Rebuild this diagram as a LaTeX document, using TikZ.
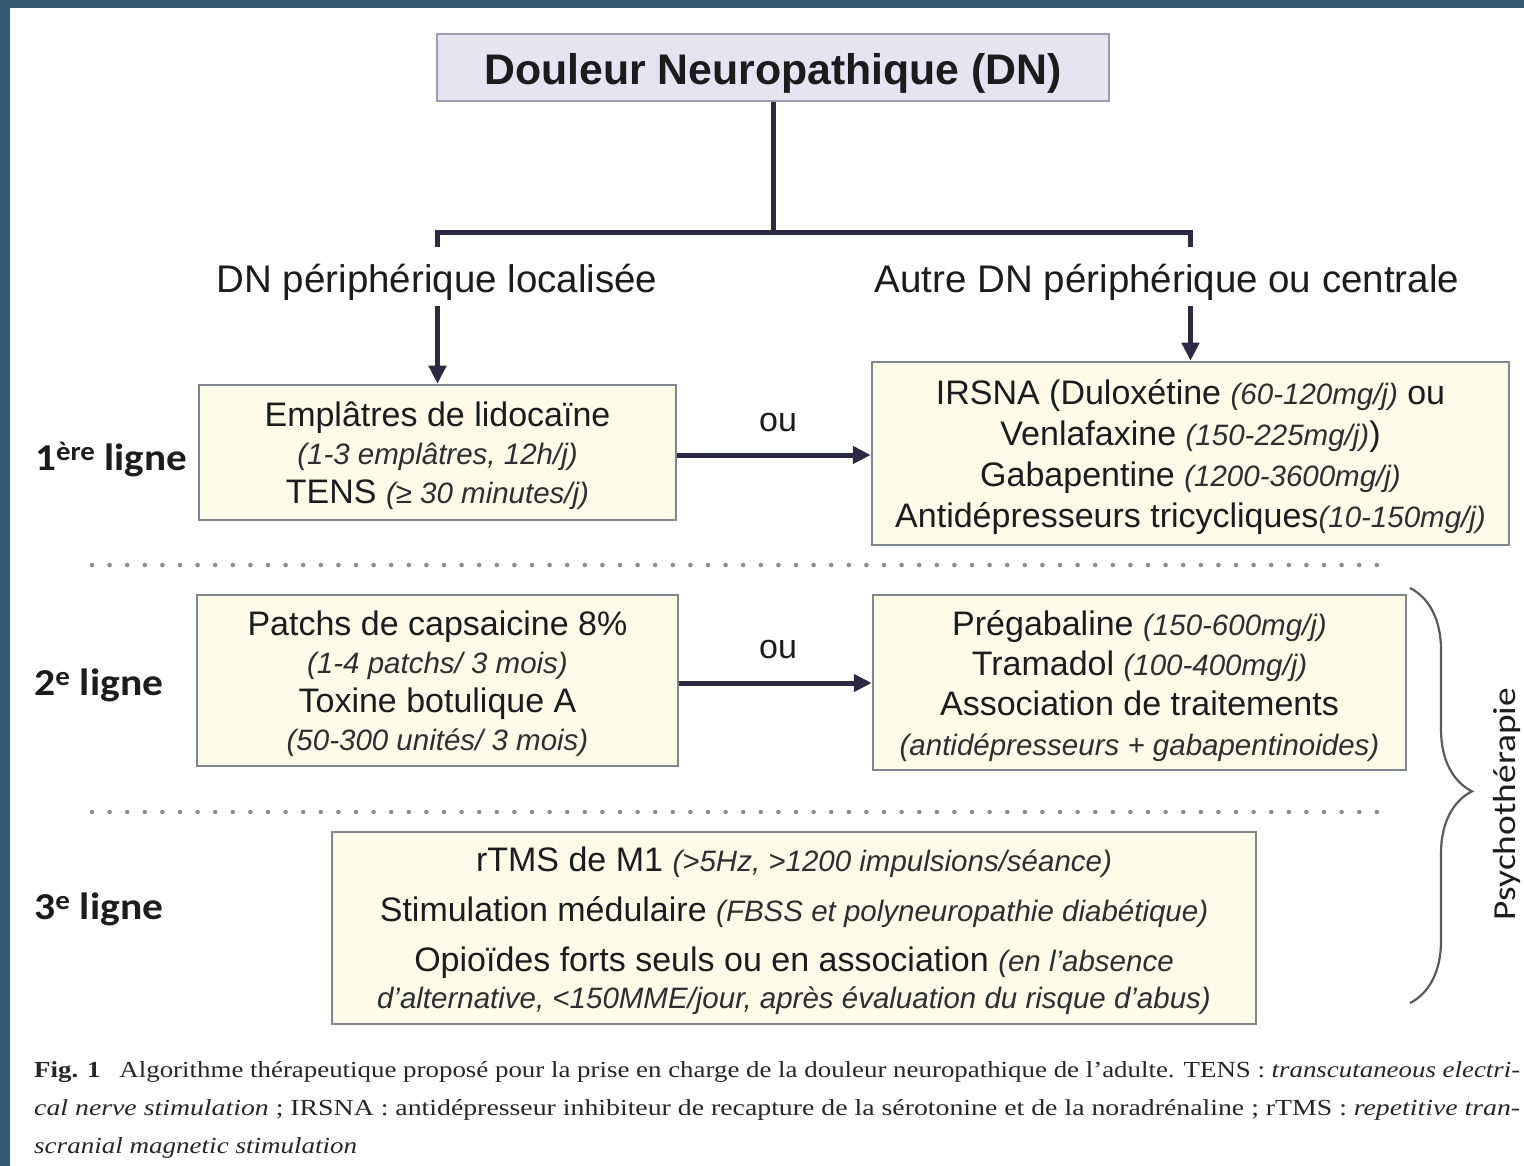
\documentclass[tikz,border=0pt]{standalone}
\usepackage{fontspec}
\usepackage{graphicx}
\setmainfont{Liberation Sans}
\newfontfamily\calibfont{Carlito}
\newfontfamily\capfont{Liberation Serif}
\usetikzlibrary{arrows.meta,decorations.pathreplacing}
\definecolor{frameblue}{HTML}{355A72}
\definecolor{topfill}{HTML}{E6E4F0}
\definecolor{topdraw}{HTML}{9C9CB4}
\definecolor{boxfill}{HTML}{FBFBE7}
\definecolor{boxdraw}{HTML}{7F878E}
\definecolor{connc}{HTML}{2C2942}
\definecolor{txt}{HTML}{1C1C1C}
\definecolor{dosec}{HTML}{2E2E2E}
\definecolor{dotc}{HTML}{8C8C8C}
\definecolor{bracec}{HTML}{5A5A5A}
\definecolor{capc}{HTML}{262626}
\newcommand{\dose}[1]{{\fontsize{29.5}{38}\selectfont\itshape\color{dosec}#1}}
\tikzset{
  topbox/.style={draw=topdraw, fill=topfill, line width=2pt, inner sep=0pt,
    text height=34pt, text depth=0pt,
    font=\fontsize{42.8}{50}\selectfont\bfseries, text=txt},
  medbox/.style={draw=boxdraw, fill=boxfill, line width=2.5pt, inner sep=0pt,
    text depth=0pt, align=center, text=txt},
  conn/.style={draw=connc, line width=5pt},
  arr/.style={conn, -{Triangle[length=18pt,width=17pt]}},
  lbl/.style={font=\fontsize{38.5}{44}\selectfont, text=txt, inner sep=0pt, anchor=base},
  lvl/.style={font=\calibfont\bfseries\fontsize{38}{44}\selectfont, text=txt, inner sep=0pt, anchor=base west},
  oulbl/.style={font=\fontsize{34}{40}\selectfont, text=txt, inner sep=0pt},
  dotline/.style={draw=dotc, line width=4.5pt, line cap=round, dash pattern=on 0pt off 17.6pt},
  bracestyle/.style={draw=bracec, line width=2.2pt, decorate,
    decoration={brace, amplitude=62pt, aspect=0.49}},
  capline/.style={anchor=base west, font=\capfont\fontsize{23}{27}\selectfont, text=capc, inner sep=0pt}
}
\begin{document}
\begin{tikzpicture}[x=1pt,y=-1pt]
\fill[frameblue] (0,0) rectangle (1524,1166);
\fill[white] (10,8) rectangle (1524,1166);
\useasboundingbox (0,0) rectangle (1524,1166);

% top node
\node[topbox, minimum width=672pt, minimum height=67pt] (dn) at (773,67.5) {Douleur Neuropathique (DN)};

% boxes
\node[medbox, minimum width=477pt, minimum height=135pt, font=\fontsize{34}{38.5}\selectfont] (b1l) at (437.5,452.5)
  {Emplâtres de lidocaïne\\ \dose{(1-3 emplâtres, 12h/j)}\\ TENS \dose{(≥ 30 minutes/j)}};
\node[medbox, minimum width=637pt, minimum height=183pt, font=\fontsize{34}{41}\selectfont] (b1r) at (1190.5,453.5)
  {IRSNA (Duloxétine \dose{(60-120mg/j)} ou\\ Venlafaxine \dose{(150-225mg/j)})\\ Gabapentine \dose{(1200-3600mg/j)}\\ Antidépresseurs tricycliques\dose{(10-150mg/j)}};
\node[medbox, minimum width=481pt, minimum height=171pt, font=\fontsize{34}{38.5}\selectfont] (b2l) at (437.5,680.5)
  {Patchs de capsaicine 8\%\\ \dose{(1-4 patchs/ 3 mois)}\\ Toxine botulique A\\ \dose{(50-300 unités/ 3 mois)}};
\node[medbox, minimum width=533pt, minimum height=175pt, font=\fontsize{34}{40}\selectfont] (b2r) at (1139.5,682.5)
  {Prégabaline \dose{(150-600mg/j)}\\ Tramadol \dose{(100-400mg/j)}\\ Association de traitements\\ \dose{(antidépresseurs + gabapentinoides)}};
\node[medbox, minimum width=924pt, minimum height=192pt, font=\fontsize{34}{37}\selectfont] (b3) at (794,928)
  {rTMS de M1 \dose{(>5Hz, >1200 impulsions/séance)}\\[13pt] Stimulation médulaire \dose{(FBSS et polyneuropathie diabétique)}\\[13pt] Opioïdes forts seuls ou en association \dose{(en l’absence}\\ \dose{d’alternative, <150MME/jour, après évaluation du risque d’abus)}};

% branch labels
\node[lbl] (pl) at (437,293) {DN périphérique localisée};
\node[lbl] (pr) at (1167,293) {Autre DN périphérique ou centrale};

% tree
\coordinate (cl) at (b1l.north |- 0,233);
\coordinate (cr) at (b1r.north |- 0,233);
\coordinate (tl) at (b1l.north |- 0,247);
\coordinate (tr) at (b1r.north |- 0,247);
\draw[conn] (dn.south) -- (dn.south |- cl);
\draw[conn] (tl) -- (cl) -- (cr) -- (tr);

% arrows
\draw[arr] ([yshift=-13pt]pl.base -| b1l.north) -- (b1l.north);
\draw[arr] ([yshift=-13pt]pr.base -| b1r.north) -- (b1r.north);
\draw[arr] (b1l.east |- 0,455) -- (b1r.west |- 0,455);
\draw[arr] (b2l.east |- 0,683) -- (b2r.west |- 0,683);
\node[oulbl] (ou1) at (778,423) {ou};
\node[oulbl] (ou2) at (778,650) {ou};

% level labels
\node[lvl] (l1) at (35,470) {\resizebox{152pt}{\height}{1\textsuperscript{ère} ligne}};
\node[lvl] (l2) at (34,695) {\resizebox{129pt}{\height}{2\textsuperscript{e} ligne}};
\node[lvl] (l3) at (34,919) {\resizebox{129pt}{\height}{3\textsuperscript{e} ligne}};

% dotted separators
\draw[dotline] (92,565) -- (1385,565);
\draw[dotline] (92,812) -- (1385,812);

% brace and psychotherapy
\draw[bracestyle] (1410,588) -- (1410,1003);
\node[rotate=90, font=\calibfont\fontsize{32}{38}\selectfont, text=txt, inner sep=0pt] (psy) at (1507,804)
  {\resizebox{232pt}{\height}{Psychothérapie}};

% caption
\node[capline] (cap1) at (34,1077) {\resizebox{1486pt}{\height}{\textbf{Fig. 1}\hspace{0.7em}Algorithme thérapeutique proposé pour la prise en charge de la douleur neuropathique de l’adulte. TENS : \textit{transcutaneous electri-}}};
\node[capline] (cap2) at (34,1115) {\resizebox{1486pt}{\height}{\textit{cal nerve stimulation} ; IRSNA : antidépresseur inhibiteur de recapture de la sérotonine et de la noradrénaline ; rTMS : \textit{repetitive tran-}}};
\node[capline] (cap3) at (34,1153) {\resizebox{323pt}{\height}{\textit{scranial magnetic stimulation}}};
\end{tikzpicture}
\end{document}
